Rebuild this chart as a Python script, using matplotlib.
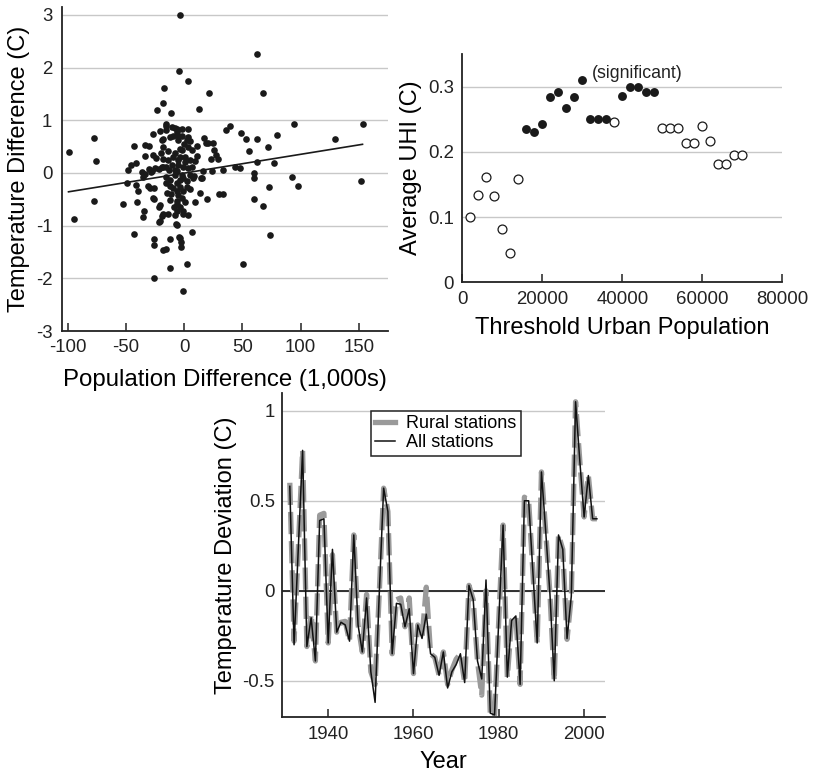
import matplotlib
matplotlib.use('Agg')
import matplotlib.pyplot as plt
import numpy as np

plt.rcParams['font.family'] = ['Liberation Sans', 'DejaVu Sans']
plt.rcParams['lines.scale_dashes'] = False
plt.rcParams['axes.unicode_minus'] = False

# ---------------- Data ----------------
# Panel A: population difference (1,000s) vs temperature difference (C)
pop_diff = [
    -3.6, 62.8, -4.2, 3.5, 67.9, 21.3, -17.0, -18.2, -23.3, -11.3, 12.4, 94.5, 153.1, 39.3, 35.6,
    48.7, 53.0, 62.2, 79.9, 129.1, 72.2, 55.8, 62.2, 77.0, 43.6, 47.6, 59.9, 59.9, 92.2, 97.4,
    73.1, 151.7, 59.9, 67.9, 73.6, 50.2, -99.4, -77.1, -75.7, -77.4, -94.6, -43.4, -52.8, -49.4,
    -48.5, -45.4, -41.4, -43.4, -40.8, -41.6, -39.9, -34.8, -35.1, -33.4, -30.5, -33.4, -27.1,
    -26.8, -26.2, -25.9, -26.2, -25.6, -18.5, -15.3, -12.5, -12.5, -3.6, -3.0, -3.0, 6.4, 2.1,
    -0.7, -21.4, -18.8, -6.5, -21.4, -13.6, -29.6, -33.9, -35.1, -30.5, -25.1, -28.2, -22.0,
    -0.7, 14.4, 13.8, 19.3, 9.3, 29.6, 33.0, 33.0, 23.9, 15.8, 17.3, 20.7, 24.4, 25.8, 27.3,
    29.3, 22.7, 10.7, 10.7, 3.5, -2.2, -2.2, -6.5, -9.3, -15.9, -15.9, -20.5, -18.5, -17.9,
    -19.9, -17.9, -24.2, -15.9, -18.5,
    -15.3, -36.0, -30.8, -27.1, -26.0, -27.9, -19.3, -20.8, -17.9, -20.8, -10.8, -7.9, -6.5,
    -19.3, -12.2, -13.6, -7.9, -5.0, -10.8, -15.6, -12.2, -7.9, -9.9, -5.9, -15.1, -12.2, -6.5,
    -5.9, -7.1, -4.2,
    15.0, 2.1, 18.7, -6.5, -5.0, 3.5, 5.0, 3.5, -2.2, 6.4, -3.6, 0.7, 5.0, 9.3, -5.0, -0.75,
    3.5, -6.5, -2.2, 5.0, 7.8, -3.6, 2.1, -6.5, -3.6, -0.75, -5.0, -2.2, -6.5, -3.6, -0.75, 3.5,
    -10.0, -8.0, -12.0, -9.0, 0.0, 1.0, -1.0, 7.0, -14.0, -11.0, 2.0, -4.0, 8.0, -16.0, -13.0,
    0.5, 5.0, -8.0,
]
temp_diff = [
    2.99, 2.25, 1.93, 1.75, 1.51, 1.52, 1.61, 1.33, 1.19, 1.14, 1.21, 0.92, 0.92, 0.90, 0.81,
    0.76, 0.65, 0.65, 0.72, 0.64, 0.50, 0.42, 0.20, 0.18, 0.12, 0.10, 0.00, -0.10, -0.07, -0.25,
    -0.26, -0.15, -0.50, -0.62, -1.18, -1.72, 0.40, 0.67, 0.22, -0.53, -0.87, -1.15, -0.58, -0.20,
    0.06, 0.15, 0.18, 0.52, -0.55, -0.22, -0.34, -0.72, -0.83, 0.54, 0.52, 0.32, 0.35,
    0.74, -0.50, -1.26, -1.37, -1.99, -1.47, -1.45, -1.26, -1.80, -1.23, -1.32, -1.40, -1.12, -1.72,
    -2.25, -0.94, -0.81, -0.99, -0.64, -0.78, -0.28, -0.02, -0.08, 0.08, 0.10, 0.01, 0.08,
    -0.78, -0.10, -0.38, -0.49, -0.56, -0.40, -0.40, 0.06, 0.03, 0.03, 0.67, 0.57, 0.57, 0.43, 0.35,
    0.27, 0.27, 0.51, 0.33, 0.83, 0.71, 0.83, 0.84, 0.71, 0.89, 0.82, 0.79, 0.65, 0.49,
    0.38, 0.27, 0.28, 0.11, 0.11,
    0.92, 0.01, -0.25, -0.48, -0.29, 0.03, 0.11, -0.61, -0.77, -0.92, 0.88, 0.85, 0.78,
    0.63, 0.69, 0.41, 0.37, 0.25, 0.15, -0.07, -0.13, -0.04, -0.29, -0.35, -0.39, -0.51, -0.58,
    -0.73, -0.96, -1.21,
    -0.09, -0.26, 0.56, 0.72, 0.63, 0.69, 0.60, 0.50, 0.44, 0.44, 0.31, 0.31, 0.25, 0.22, 0.15, 0.12,
    0.09, 0.03, -0.04, -0.04, -0.10, -0.13, -0.16, -0.20, -0.26, -0.35, -0.42, -0.48, -0.54, -0.64, -0.73, -0.80,
    0.30, 0.05, -0.25, -0.65, 0.55, 0.20, -0.10, 0.12, 0.25, -0.40, 0.62, 0.45, -0.05, -0.20, 0.05,
    -0.55, -0.30, -0.80,
]
fit_slope = 0.00357
fit_intercept = -0.003

# Panel B: threshold urban population vs average UHI
threshold = [2000, 4000, 6000, 8000, 10000, 12000, 14000, 16000, 18000, 20000, 22000, 24000,
             26000, 28000, 30000, 32000, 34000, 36000, 38000, 40000, 42000, 44000, 46000, 48000,
             50000, 52000, 54000, 56000, 58000, 60000, 62000, 64000, 66000, 68000, 70000]
avg_uhi = [0.100, 0.134, 0.162, 0.132, 0.082, 0.045, 0.158, 0.235, 0.231, 0.242, 0.284, 0.292,
           0.267, 0.284, 0.310, 0.251, 0.251, 0.251, 0.246, 0.286, 0.300, 0.299, 0.292, 0.292,
           0.237, 0.237, 0.237, 0.213, 0.213, 0.240, 0.217, 0.181, 0.181, 0.195, 0.195]
significant = [False, False, False, False, False, False, False, True, True, True, True, True,
               True, True, True, True, True, True, False, True, True, True, True, True,
               False, False, False, False, False, False, False, False, False, False, False]

# Panel C: temperature deviation time series
years = list(range(1931, 2004))
all_stations = [
    0.58, -0.30, 0.24, 0.78, -0.31, -0.15, -0.39, 0.39, 0.40, -0.29,
    0.23, -0.23, -0.175, -0.19, -0.28, 0.31, -0.19, -0.34, -0.04, -0.45,
    -0.62, 0.00, 0.57, 0.44, -0.35, -0.07, -0.075, -0.20, -0.10, -0.46,
    -0.19, -0.265, -0.13, -0.35, -0.37, -0.47, -0.34, -0.54, -0.45, -0.41,
    -0.35, -0.51, 0.03, -0.05, -0.39, -0.49, 0.06, -0.68, -0.69, -0.16,
    0.365, -0.48, -0.165, -0.14, -0.52, 0.50, 0.50, 0.10, -0.29, 0.66,
    0.33, -0.02, -0.50, 0.31, 0.23, -0.265, -0.03, 1.05, 0.72, 0.41,
    0.64, 0.40, 0.40,
]
rural_stations = [
    0.60, -0.28, 0.24, 0.78, -0.31, -0.13, -0.39, 0.42, 0.43, -0.29,
    0.20, -0.23, -0.175, -0.17, -0.28, 0.31, -0.19, -0.34, -0.02, -0.45,
    -0.52, 0.00, 0.57, 0.44, -0.35, -0.05, -0.04, -0.20, -0.04, -0.46,
    -0.19, -0.265, 0.02, -0.35, -0.37, -0.47, -0.34, -0.52, -0.44, -0.38,
    -0.35, -0.51, 0.03, -0.05, -0.39, -0.58, 0.00, -0.68, -0.70, -0.16,
    0.365, -0.48, -0.165, -0.14, -0.52, 0.52, 0.50, 0.10, -0.29, 0.66,
    0.33, -0.02, -0.50, 0.31, 0.23, -0.27, -0.03, 1.05, 0.72, 0.41,
    0.64, 0.40, 0.40,
]

# ---------------- Style ----------------
GRID = '#c8c8c8'
TICK_FS = 13.4
LABEL_FS = 17
W, H = 813, 773

fig = plt.figure(figsize=(W / 100, H / 100), dpi=100)


def style_axes(ax, ypad):
    for s in ['top', 'right']:
        ax.spines[s].set_visible(False)
    for s in ['left', 'bottom']:
        ax.spines[s].set_linewidth(1.3)
        ax.spines[s].set_color('#222222')
    ax.tick_params(axis='x', direction='in', length=6, width=1.1, labelsize=TICK_FS, pad=6,
                   colors='#222222')
    ax.tick_params(axis='y', length=0, labelsize=TICK_FS, pad=ypad, colors='#222222')
    ax.yaxis.grid(True, color=GRID, linewidth=1.0)
    ax.set_axisbelow(True)


# Panel A
ax1 = fig.add_axes([62 / W, 1 - 331 / H, 326 / W, 324 / H])
style_axes(ax1, 7)
ax1.set_xlim(-105, 175)
ax1.set_ylim(-3, 3.15)
ax1.set_xticks([-100, -50, 0, 50, 100, 150])
ax1.set_yticks([-3, -2, -1, 0, 1, 2, 3])
ax1.plot(pop_diff, temp_diff, 'o', color='#1a1a1a', markersize=4.8, markeredgewidth=0, zorder=3)
xf = np.array([min(pop_diff), max(pop_diff)])
ax1.plot(xf, fit_slope * xf + fit_intercept, color='#1a1a1a', linewidth=1.2, zorder=4)
ax1.set_xlabel('Population Difference (1,000s)', fontsize=17.3, labelpad=9)
ax1.set_ylabel('Temperature Difference (C)', fontsize=LABEL_FS, labelpad=4)

# Panel B
ax2 = fig.add_axes([462.3 / W, 1 - 282.3 / H, 320 / W, 228.3 / H])
style_axes(ax2, 6)
ax2.set_xlim(0, 80000)
ax2.set_ylim(0, 0.35)
ax2.set_xticks([0, 20000, 40000, 60000, 80000])
ax2.set_yticks([0, 0.1, 0.2, 0.3])
ax2.set_yticklabels(['0', '0.1', '0.2', '0.3'])
thr = np.array(threshold)
uhi = np.array(avg_uhi)
sig = np.array(significant)
ax2.plot(thr[~sig], uhi[~sig], 'o', markerfacecolor='white', markeredgecolor='#1a1a1a',
         markeredgewidth=0.9, markersize=6.4, linestyle='none', zorder=3)
ax2.plot(thr[sig], uhi[sig], 'o', color='#1a1a1a', markersize=6.4, markeredgewidth=0,
         linestyle='none', zorder=3)
ax2.text(32300, 0.3206, '(significant)', fontsize=12.8, va='center', ha='left', color='#222222')
ax2.set_xlabel('Threshold Urban Population', fontsize=LABEL_FS, labelpad=7)
ax2.set_ylabel('Average UHI (C)', fontsize=LABEL_FS, labelpad=4)

# Panel C
ax3 = fig.add_axes([281.7 / W, 1 - 717.3 / H, 323.3 / W, 324 / H])
style_axes(ax3, 5)
ax3.set_xlim(1929.1, 2004.9)
ax3.set_ylim(-0.703, 1.097)
ax3.set_xticks([1940, 1960, 1980, 2000])
ax3.set_yticks([-0.5, 0, 0.5, 1])
ax3.set_yticklabels(['-0.5', '0', '0.5', '1'])
ax3.axhline(0, color='#222222', linewidth=1.3, zorder=2)
ax3.plot(years, rural_stations, color='#9a9a9a', linewidth=3.8, dashes=(16, 5),
         label='Rural stations', zorder=3)
ax3.plot(years, all_stations, color='#111111', linewidth=1.1, label='All stations', zorder=4)
leg = ax3.legend(loc='upper left', bbox_to_anchor=(0.276, 0.946), borderaxespad=0,
                 fontsize=13, handlelength=1.1, handletextpad=0.6, labelspacing=0.1,
                 borderpad=0.25, fancybox=False, framealpha=1, edgecolor='#222222')
leg.get_frame().set_linewidth(1.1)
leg.legend_handles[0].set_dashes((None, None))
leg.legend_handles[0].set_linestyle('-')
ax3.set_xlabel('Year', fontsize=LABEL_FS, labelpad=6)
ax3.set_ylabel('Temperature Deviation (C)', fontsize=LABEL_FS, labelpad=4)

fig.savefig('out.png', dpi=100)
